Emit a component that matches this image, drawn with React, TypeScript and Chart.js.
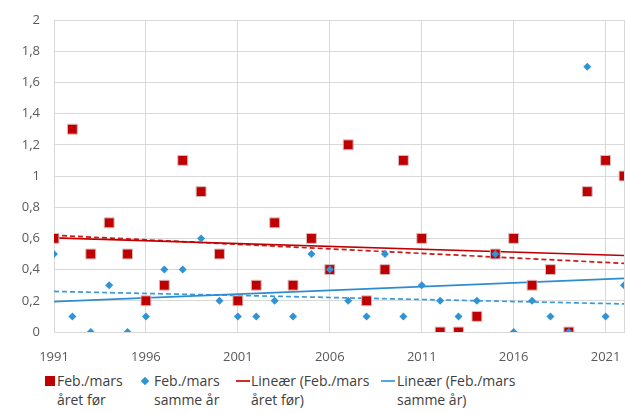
import React, { useEffect, useRef } from 'react';
import { Chart, registerables } from 'chart.js';

Chart.register(...registerables);

// ---- Data ----
const years = [
  1991, 1992, 1993, 1994, 1995, 1996, 1997, 1998, 1999, 2000,
  2001, 2002, 2003, 2004, 2005, 2006, 2007, 2008, 2009, 2010,
  2011, 2012, 2013, 2014, 2015, 2016, 2017, 2018, 2019, 2020,
  2021, 2022,
];
const aretFor = [
  0.6, 1.3, 0.5, 0.7, 0.5, 0.2, 0.3, 1.1, 0.9, 0.5,
  0.2, 0.3, 0.7, 0.3, 0.6, 0.4, 1.2, 0.2, 0.4, 1.1,
  0.6, 0.0, 0.0, 0.1, 0.5, 0.6, 0.3, 0.4, 0.0, 0.9,
  1.1, 1.0,
];
const sammeAr = [
  0.5, 0.1, 0.0, 0.3, 0.0, 0.1, 0.4, 0.4, 0.6, 0.2,
  0.1, 0.1, 0.2, 0.1, 0.5, 0.4, 0.2, 0.1, 0.5, 0.1,
  0.3, 0.2, 0.1, 0.2, 0.5, 0.0, 0.2, 0.1, 0.0, 1.7,
  0.1, 0.3,
];
// dashed (unlabelled) trend lines, endpoints
const dashedYears = [1991, 2022];
const dashedAretFor = [0.62, 0.44];
const dashedSammeAr = [0.26, 0.18];

const xTickValues = [1991, 1996, 2001, 2006, 2011, 2016, 2021];
const xMin = 1991;
const xMax = 2022;
const yMin = 0;
const yMax = 2;
const yStep = 0.2;

const labelAretFor = ['Feb./mars', 'året før'];
const labelSammeAr = ['Feb./mars', 'samme år'];
const labelLinAretFor = ['Lineær (Feb./mars', 'året før)'];
const labelLinSammeAr = ['Lineær (Feb./mars', 'samme år)'];

const RED = '#C00000';
const BLUE = '#2F93D6';
const BLUE_LINE = '#2E8DD0';

function linearTrend(xs: number[], ys: number[]) {
  const n = xs.length;
  const mx = xs.reduce((a, b) => a + b, 0) / n;
  const my = ys.reduce((a, b) => a + b, 0) / n;
  let sxy = 0;
  let sxx = 0;
  for (let i = 0; i < n; i++) {
    sxy += (xs[i] - mx) * (ys[i] - my);
    sxx += (xs[i] - mx) * (xs[i] - mx);
  }
  const b = sxy / sxx;
  const a = my - b * mx;
  return [xMin, xMax].map((x) => ({ x, y: a + b * x }));
}

const FONT = "'Open Sans', sans-serif";

export default function App() {
  const ref = useRef<HTMLCanvasElement | null>(null);

  useEffect(() => {
    if (!ref.current) return;
    const chart = new Chart(ref.current, {
      type: 'scatter',
      data: {
        datasets: [
          {
            label: labelSammeAr.join(' '),
            data: years.map((x, i) => ({ x, y: sammeAr[i] })),
            pointStyle: 'rectRot',
            pointRadius: 4,
            backgroundColor: BLUE,
            borderColor: BLUE,
            borderWidth: 0,
            order: 0,
          },
          {
            label: labelAretFor.join(' '),
            data: years.map((x, i) => ({ x, y: aretFor[i] })),
            pointStyle: 'rect',
            pointRadius: 7,
            backgroundColor: RED,
            borderColor: '#D8BDBD',
            borderWidth: 1,
            order: 1,
          },
          {
            label: labelLinAretFor.join(' '),
            data: linearTrend(years, aretFor),
            showLine: true,
            pointRadius: 0,
            borderColor: RED,
            borderWidth: 1.7,
            order: 2,
          },
          {
            label: labelLinSammeAr.join(' '),
            data: linearTrend(years, sammeAr),
            showLine: true,
            pointRadius: 0,
            borderColor: BLUE_LINE,
            borderWidth: 1.7,
            order: 2,
          },
          {
            label: 'dashed red',
            data: dashedYears.map((x, i) => ({ x, y: dashedAretFor[i] })),
            showLine: true,
            pointRadius: 0,
            borderColor: '#C81A1A',
            borderWidth: 1.7,
            borderDash: [5, 3],
            order: 3,
          },
          {
            label: 'dashed blue',
            data: dashedYears.map((x, i) => ({ x, y: dashedSammeAr[i] })),
            showLine: true,
            pointRadius: 0,
            borderColor: '#3C9ADB',
            borderWidth: 1.7,
            borderDash: [5, 3],
            order: 3,
          },
        ],
      },
      options: {
        animation: false,
        responsive: true,
        maintainAspectRatio: false,
        layout: { autoPadding: false, padding: { top: 20, right: 1, left: 0, bottom: 0 } },
        plugins: {
          legend: { display: false },
          tooltip: { enabled: false },
        },
        scales: {
          x: {
            type: 'linear',
            min: xMin,
            max: xMax,
            afterBuildTicks: (scale: any) => {
              scale.ticks = [...xTickValues, xMax].map((v) => ({ value: v }));
            },
            afterFit: (scale: any) => {
              scale.height = 36;
              scale.paddingLeft = 0;
              scale.paddingRight = 0;
            },
            ticks: {
              autoSkip: false,
              maxRotation: 0,
              padding: 17,
              color: '#595959',
              font: { family: FONT, size: 13 },
              callback: (v: any) => (xTickValues.includes(Number(v)) ? String(v) : ''),
            },
            grid: { color: '#D9D9D9', drawTicks: false, lineWidth: 1 },
            border: { color: '#D9D9D9', width: 1 },
          },
          y: {
            min: yMin,
            max: yMax,
            afterFit: (scale: any) => {
              scale.width = 54;
              scale.paddingTop = 0;
              scale.paddingBottom = 0;
            },
            ticks: {
              stepSize: yStep,
              padding: 14,
              color: '#595959',
              font: { family: FONT, size: 13 },
              callback: (v: any) =>
                Number(v).toFixed(1).replace(/\.0$/, '').replace('.', ','),
            },
            grid: { color: '#D9D9D9', drawTicks: false, lineWidth: 1 },
            border: { color: '#D9D9D9', width: 1 },
          },
        },
      },
    });
    return () => chart.destroy();
  }, []);

  const textStyle: React.CSSProperties = {
    position: 'absolute',
    top: 371,
    fontFamily: FONT,
    fontSize: 14,
    lineHeight: '19px',
    color: '#404040',
    whiteSpace: 'nowrap',
  };

  const lines = (l: string[]) => (
    <>
      {l[0]}
      <br />
      {l[1]}
    </>
  );

  return (
    <div style={{ position: 'fixed', left: 0, top: 0, width: 625, height: 414, background: '#fff', overflow: 'hidden' }}>
      <div style={{ position: 'absolute', left: 0, top: 0, width: 625, height: 368 }}>
        <canvas ref={ref} />
      </div>
      {/* Legend */}
      <div style={{ position: 'absolute', left: 45, top: 376, width: 10, height: 10, background: RED }} />
      <div style={{ ...textStyle, left: 57 }}>{lines(labelAretFor)}</div>

      <div
        style={{
          position: 'absolute',
          left: 142,
          top: 378,
          width: 6,
          height: 6,
          background: BLUE,
          transform: 'rotate(45deg)',
        }}
      />
      <div style={{ ...textStyle, left: 154 }}>{lines(labelSammeAr)}</div>

      <div style={{ position: 'absolute', left: 236, top: 380, width: 14, height: 2, background: '#D42A2A' }} />
      <div style={{ ...textStyle, left: 251 }}>{lines(labelLinAretFor)}</div>

      <div style={{ position: 'absolute', left: 381, top: 380, width: 14, height: 2, background: '#4EA8E2' }} />
      <div style={{ ...textStyle, left: 397 }}>{lines(labelLinSammeAr)}</div>
    </div>
  );
}
